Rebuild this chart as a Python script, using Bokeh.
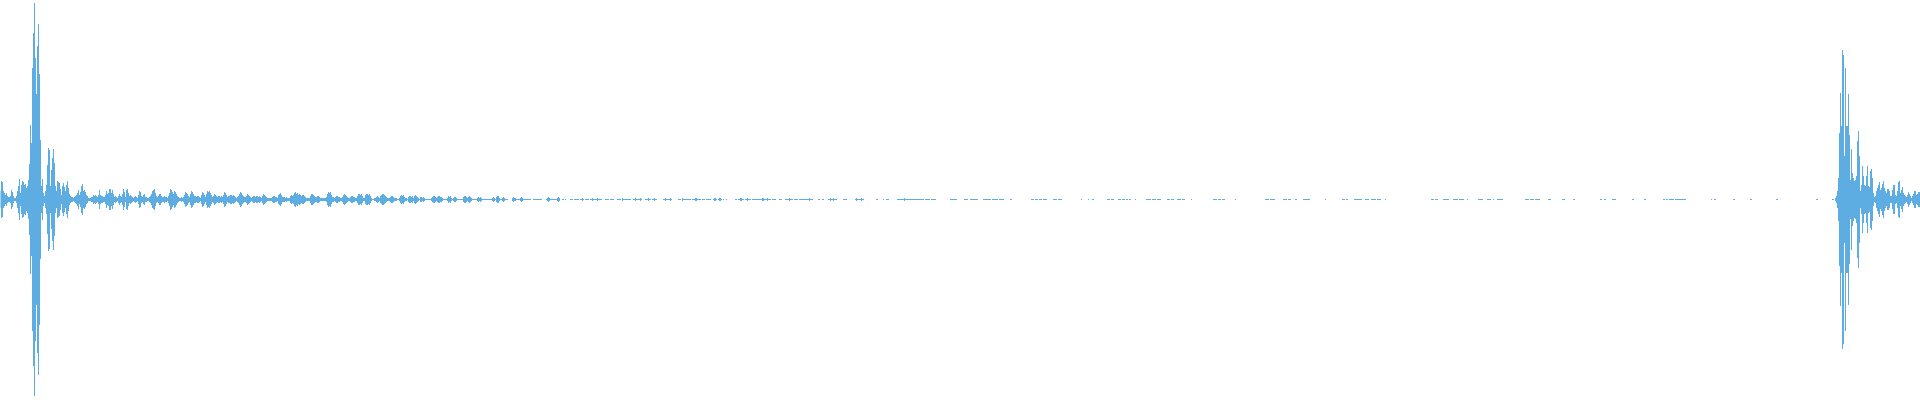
from bokeh.plotting import figure
from bokeh.models import Range1d, ColumnDataSource
from bokeh.embed import file_html
from bokeh.resources import INLINE

WAVE_COLOR = "#5DADE2"

# Half-height (in pixels of the 400 px tall chart) of each waveform column.
burst1_start = 0
burst1_amp = [
    8, 18, 17, 8, 6, 4, 6, 3, 2, 2, 3, 9, 7, 3, 1, 1, 3, 8, 13, 20,
    6, 14, 18, 17, 14, 15, 11, 13, 19, 35, 74, 56, 131, 166, 196, 141, 105, 153, 175, 125,
    59, 13, 20, 6, 3, 8, 14, 34, 51, 49, 13, 29, 41, 50, 36, 13, 8, 18, 17, 16,
    10, 4, 13, 16, 12, 8, 14, 18, 11, 5, 3, 2, 2, 1, 2, 3, 4, 6, 9, 4,
    7, 13, 15, 8, 9, 7, 4, 3, 1, 1, 1, 2, 2, 4, 3, 4, 3, 2, 4, 9,
    4, 3, 3, 2, 2, 4, 8, 5, 6, 10, 10, 6, 9, 5, 2, 3, 2, 1, 3, 5,
    3, 2, 5, 10, 7, 2, 9, 10, 6, 3, 4, 3, 2, 1, 2, 3, 2, 1, 4, 8,
    7, 3, 2, 4, 5, 2, 2, 1, 1, 2, 3, 5, 8, 9, 10, 6, 3, 2, 3, 5,
]

N = None  # silent column
tail_start = 160
tail_amp = [
    5, 3, 2, 2, 3, 2, 2, 1, 3, 6, 10, 9, 7, 5, 8, 7, 5, 3, 2, 1,
    1, 2, 1, 2, 4, 7, 6, 5, 3, 2, 5, 8, 7, 5, 3, 3, 2, 3, 3, 2,
    1, 4, 7, 6, 4, 2, 5, 8, 7, 8, 6, 4, 2, 3, 5, 4, 3, 2, 3, 3,
    2, 3, 2, 4, 7, 6, 4, 2, 3, 3, 4, 4, 3, 4, 3, 2, 1, 2, 3, 5,
    7, 6, 4, 3, 2, 2, 3, 5, 4, 3, 2, 1, 2, 3, 3, 2, 3, 3, 2, 3,
    2, 1, 3, 5, 4, 3, 2, 1, 1, 1, 1, 1, 2, 3, 3, 2, 2, 1, 4, 5,
    6, 4, 2, 2, 2, 1, 2, 1, 1, 1, 3, 4, 3, 4, 6, 7, 5, 6, 4, 5,
    4, 3, 4, 4, 3, 2, 1, 1, 1, 1, 3, 5, 5, 4, 3, 2, 2, 3, 3, 2,
    1, 1, 1, 1, 1, 1, 2, 5, 7, 6, 7, 4, 2, 2, 1, 2, 3, 3, 2, 2,
    1, 1, 2, 4, 5, 4, 3, 2, 1, 1, 2, 3, 3, 2, 2, 1, 1, 3, 5, 5,
    4, 5, 3, 1, 1, 4, 5, 5, 4, 5, 3, 1, 0, 0, 1, 1, 2, 3, 2, 1,
    3, 4, 5, 5, 4, 3, 2, 1, 1, 1, 2, 3, 3, 2, 1, 1, 1, 0, 0, 1,
    3, 4, 3, 4, 2, 1, 1, 0, 2, 3, 3, 2, 3, 1, 3, 4, 3, 2, 1, 0,
    2, 2, 1, 2, 1, 0, 0, 0, 0, 0, 0, 1, 2, 3, 3, 2, 1, 2, 3, 3,
    2, 2, 1, 0, 0, 0, 0, 1, 3, 2, 3, 1, 0, 1, 2, 2, 1, 0, 0, 0,
    0, 0, 0, 2, 3, 3, 2, 1, 2, 3, 2, 1, 0, 0, 0, 0, 0, 1, 2, 1,
    2, 1, 0, 0, 0, 0, 0, 0, 0, 0, 0, 0, 1, 2, 1, 0, 2, 3, 3, 1,
    0, 0, 1, 2, 1, 0, 0, 0, N, N, N, N, 1, 2, 1, 1, 0, 0, 0, 0,
    1, 2, 1, 0, 0, 0, 0, 0, 0, 0, 0, N, N, 0, 0, 0, 0, 0, 0, 0,
    0, 0, N, N, N, N, 0, 1, 2, 1, 0, 0, 0, 0, 0, 0, 0, 1, 2, 1,
]

# Near-silent stretch: runs of 1 px marks (first column, last column)
sparse_start = [
    562, 565, 570, 574, 580, 585, 590, 605, 610, 617, 622, 633, 645, 652, 663, 678, 682, 692,
    702, 706, 713, 718, 723, 726, 735, 738, 745, 752, 761, 766, 772, 779, 785, 794, 799, 818,
    822, 828, 843, 855, 876, 883, 886, 897, 905, 925, 931, 950, 964, 970, 983, 992, 999,
    1010, 1031, 1035, 1039, 1043, 1053, 1058, 1081, 1088, 1092, 1107, 1111, 1118, 1122, 1126,
    1129, 1135, 1146, 1152, 1157, 1167, 1171, 1177, 1182, 1191, 1213, 1218, 1222, 1235, 1265,
    1270, 1283, 1288, 1295, 1303, 1307, 1325, 1342, 1346, 1354, 1365, 1371, 1377, 1385, 1431,
    1435, 1443, 1453, 1459, 1467, 1478, 1487, 1493, 1497, 1525, 1530, 1535, 1548, 1562, 1573,
    1600, 1604, 1612, 1632, 1644, 1663, 1666, 1669, 1675, 1678, 1711, 1714, 1733, 1750, 1776,
    1816, 1832,
]
sparse_end = [
    563, 565, 572, 578, 583, 588, 601, 608, 613, 620, 630, 641, 650, 656, 671, 680, 690, 700,
    704, 710, 716, 721, 723, 726, 736, 743, 750, 760, 765, 770, 775, 781, 792, 797, 812, 819,
    823, 836, 846, 863, 877, 883, 888, 903, 923, 929, 935, 956, 967, 977, 990, 997, 1003,
    1011, 1033, 1037, 1041, 1046, 1056, 1061, 1081, 1088, 1093, 1109, 1113, 1120, 1124, 1127,
    1130, 1135, 1150, 1155, 1160, 1169, 1173, 1180, 1184, 1191, 1216, 1220, 1224, 1235, 1268,
    1274, 1286, 1290, 1296, 1306, 1309, 1325, 1344, 1347, 1361, 1368, 1375, 1380, 1385, 1433,
    1437, 1448, 1457, 1463, 1467, 1482, 1490, 1493, 1502, 1528, 1533, 1539, 1550, 1564, 1574,
    1601, 1605, 1615, 1633, 1645, 1664, 1667, 1673, 1677, 1685, 1711, 1715, 1734, 1751, 1777,
    1817, 1833,
]
# slightly taller (3 px) marks inside the near-silent stretch
sparse_peaks = [
    582, 592, 597, 622, 635, 640, 648, 654, 665, 670, 682, 695, 696, 714, 715, 719, 720,
    740, 741, 747, 762, 763, 767, 789, 809, 830, 833, 856, 861, 904,
]

burst2_start = 1835
burst2_amp = [
    1, 3, 8, 21, 66, 106, 73, 149, 144, 43, 131, 73, 73, 105, 64, 19, 50, 26, 21, 18,
    19, 23, 58, 68, 43, 8, 14, 33, 23, 14, 13, 23, 33, 13, 12, 28, 30, 21, 6, 2,
    3, 8, 11, 14, 17, 9, 11, 15, 18, 11, 8, 6, 10, 10, 8, 3, 3, 9, 14, 14,
    4, 3, 8, 17, 18, 6, 9, 12, 6, 4, 3, 2, 4, 7, 5, 3, 1, 3, 5, 8,
    8, 4, 5, 7, 7,
]

# ---- assemble columns ----
amp_by_col = {}
for i, a in enumerate(burst1_amp):
    amp_by_col[burst1_start + i] = a
for i, a in enumerate(tail_amp):
    if a is not None:
        amp_by_col[tail_start + i] = a
for s, e in zip(sparse_start, sparse_end):
    for c in range(s, e + 1):
        amp_by_col.setdefault(c, 0)
for c in sparse_peaks:
    amp_by_col[c] = 1
for i, a in enumerate(burst2_amp):
    amp_by_col[burst2_start + i] = a

cols = sorted(amp_by_col)
amps = [amp_by_col[c] for c in cols]
src = ColumnDataSource(dict(
    left=cols,
    right=[c + 1 for c in cols],
    top=[a + 1 for a in amps],
    bottom=[-a for a in amps],
))

# ranges shifted by half a pixel to compensate BokehJS's 0.5 px canvas translate,
# so that every 1 px column lands exactly on the pixel grid
p = figure(width=1920, height=400, output_backend="svg", toolbar_location=None,
           title=None,
           x_range=Range1d(0.5, 1920.5), y_range=Range1d(-200.5, 199.5),
           min_border=0, min_border_left=0, min_border_right=0,
           min_border_top=0, min_border_bottom=0)
p.xaxis.visible = False
p.yaxis.visible = False
p.grid.visible = False
p.outline_line_color = None
p.background_fill_color = "white"
p.border_fill_color = "white"

p.quad(left="left", right="right", top="top", bottom="bottom", source=src,
       fill_color=WAVE_COLOR, line_color=None)

html = file_html(p, INLINE)
html = html.replace("</head>",
                    "<style>html,body{margin:0;padding:0;overflow:hidden}</style></head>", 1)
open("out.html", "w").write(html)
